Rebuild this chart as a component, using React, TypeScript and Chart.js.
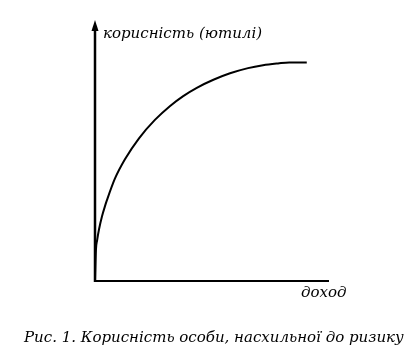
import React, { useEffect, useRef } from "react";
import { Chart, registerables } from "chart.js";

Chart.register(...registerables);

// income (доход), arbitrary units
const incomeValues = [0, 0.04, 0.09, 0.17, 0.3, 0.43, 0.51, 0.85, 1.28, 1.88, 2.56, 3.21, 3.77, 4.35, 5.06, 5.77, 6.54, 7.18, 7.82, 8.3, 9.05];
// utility (корисність), arbitrary units
const utilityValues = [0, 1.2, 1.57, 1.99, 2.5, 2.9, 3.12, 3.95, 4.7, 5.51, 6.22, 6.76, 7.14, 7.46, 7.77, 8.02, 8.22, 8.33, 8.4, 8.44, 8.44];

const yAxisLabel = "корисність (ютилі)";
const xAxisLabel = "доход";
const captionText = "Рис. 1. Корисність особи, насхильної до ризику";

const X_MAX = 10;
const Y_MAX = 10;

const axesPlugin = {
  id: "axesPlugin",
  afterDraw(chart: any) {
    const ctx = chart.ctx as CanvasRenderingContext2D;
    const xs = chart.scales.x;
    const ys = chart.scales.y;
    const x0 = xs.getPixelForValue(0);
    const x1 = xs.getPixelForValue(X_MAX);
    const y0 = ys.getPixelForValue(0);
    const y1 = ys.getPixelForValue(Y_MAX);
    ctx.save();
    ctx.strokeStyle = "#000";
    ctx.fillStyle = "#000";
    ctx.lineWidth = 2.5;
    // y axis
    ctx.beginPath();
    ctx.moveTo(x0, y0 + 1);
    ctx.lineTo(x0, y1 + 6);
    ctx.stroke();
    // arrow head
    ctx.beginPath();
    ctx.moveTo(x0, y1 - 2);
    ctx.lineTo(x0 - 3.5, y1 + 9);
    ctx.lineTo(x0 + 3.5, y1 + 9);
    ctx.closePath();
    ctx.fill();
    // x axis
    ctx.lineWidth = 2;
    ctx.beginPath();
    ctx.moveTo(x0 - 1, y0);
    ctx.lineTo(x1, y0);
    ctx.stroke();

    ctx.font = "italic 15px 'DejaVu Serif'";
    ctx.textBaseline = "alphabetic";
    ctx.textAlign = "left";
    ctx.fillText(yAxisLabel, x0 + 8, y1 + 16);
    ctx.fillText(xAxisLabel, x1 - 28, y0 + 16);
    ctx.fillText(captionText, 24, 342);
    ctx.restore();
  },
};

export default function App() {
  const ref = useRef<HTMLCanvasElement>(null);
  useEffect(() => {
    const points = incomeValues.map((x, i) => ({ x, y: utilityValues[i] }));
    const chart = new Chart(ref.current!, {
      type: "line",
      data: {
        datasets: [
          {
            data: points,
            borderColor: "#000",
            borderWidth: 2,
            pointRadius: 0,
            cubicInterpolationMode: "monotone",
            fill: false,
          },
        ],
      },
      options: {
        animation: false,
        responsive: false,
        events: [],
        layout: { padding: { left: 95, top: 22, right: 91, bottom: 67 } },
        plugins: { legend: { display: false }, tooltip: { enabled: false } },
        scales: {
          x: { type: "linear", min: 0, max: X_MAX, display: false },
          y: { type: "linear", min: 0, max: Y_MAX, display: false },
        },
      },
      plugins: [axesPlugin],
    });
    return () => chart.destroy();
  }, []);
  return (
    <div style={{ position: "fixed", left: 0, top: 0, width: 420, height: 348, background: "#fff" }}>
      <canvas ref={ref} width={420} height={348} />
    </div>
  );
}
